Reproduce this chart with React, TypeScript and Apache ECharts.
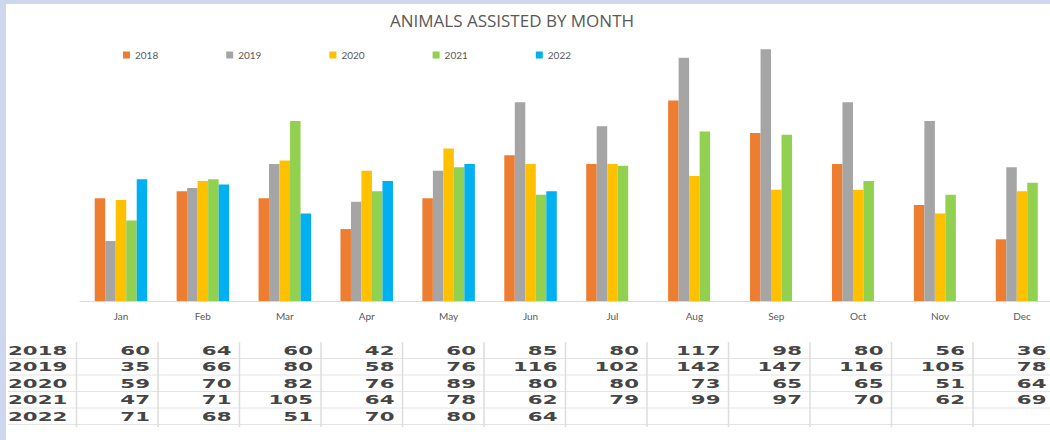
import React, { useEffect, useRef } from "react";
import * as echarts from "echarts";

const months = ["Jan", "Feb", "Mar", "Apr", "May", "Jun", "Jul", "Aug", "Sep", "Oct", "Nov", "Dec"];
const years = ["2018", "2019", "2020", "2021", "2022"];
const v2018 = [60, 64, 60, 42, 60, 85, 80, 117, 98, 80, 56, 36];
const v2019 = [35, 66, 80, 58, 76, 116, 102, 142, 147, 116, 105, 78];
const v2020 = [59, 70, 82, 76, 89, 80, 80, 73, 65, 65, 51, 64];
const v2021 = [47, 71, 105, 64, 78, 62, 79, 99, 97, 70, 62, 69];
const v2022: (number | null)[] = [71, 68, 51, 70, 80, 64, null, null, null, null, null, null];
const colors = ["#ED7D31", "#A5A5A5", "#FFC000", "#92D050", "#00B0F0"];
const title = "ANIMALS ASSISTED BY MONTH";

export default function App() {
  const ref = useRef<HTMLDivElement>(null);
  useEffect(() => {
    if (!ref.current) return;
    const chart = echarts.init(ref.current, null, { renderer: "svg" });
    const allSeries = [v2018, v2019, v2020, v2021, v2022];

    const graphics: any[] = [];
    graphics.push({
      type: "rect",
      z: -100,
      silent: true,
      shape: { x: 6, y: 4, width: 1100, height: 436 },
      style: { fill: "#ffffff" },
    });
    const rowY = [350.5, 367, 383.5, 400, 416.5];
    const sep0 = 76.5;
    const colW = 81.5;
    const lineTop = 342;
    const lineBottom = 427;
    [358.5, 375, 391.5, 408, 424.5].forEach((y) => {
      graphics.push({
        type: "line",
        silent: true,
        shape: { x1: 8, y1: y, x2: 1050, y2: y },
        style: { stroke: "#e4e4e4", lineWidth: 1 },
      });
    });
    for (let k = 0; k <= 12; k++) {
      graphics.push({
        type: "line",
        silent: true,
        shape: { x1: sep0 + colW * k, y1: lineTop, x2: sep0 + colW * k, y2: lineBottom },
        style: { stroke: "#dcdcdc", lineWidth: 1.5 },
      });
    }
    const textStyleBase = {
      fontFamily: "DejaVu Sans",
      fontWeight: "bold",
      fontSize: 13,
      fill: "#454545",
      verticalAlign: "middle",
    };
    years.forEach((yr, r) => {
      graphics.push({
        type: "text",
        silent: true,
        x: 8,
        y: rowY[r],
        scaleX: 1.64,
        style: { ...textStyleBase, text: yr, align: "left" },
      });
      allSeries[r].forEach((val, c) => {
        if (val == null) return;
        graphics.push({
          type: "text",
          silent: true,
          x: sep0 + colW * (c + 1) - 8,
          y: rowY[r],
          scaleX: 1.64,
          style: { ...textStyleBase, text: String(val), align: "right" },
        });
      });
    });

    chart.setOption({
      animation: false,
      backgroundColor: "#cdd7ee",
      color: colors,
      title: {
        text: title,
        left: 507,
        textAlign: "center",
        top: 7,
        textStyle: { fontFamily: "Open Sans", fontSize: 17, fontWeight: "normal", color: "#595959" },
      },
      legend: {
        data: years,
        left: 118,
        top: 45,
        itemWidth: 7,
        itemHeight: 7,
        itemGap: 68,
        icon: "rect",
        textStyle: { fontFamily: "Lato", fontSize: 10, color: "#595959" },
      },
      grid: { left: 80, width: 983, top: 44, bottom: 139 },
      xAxis: {
        type: "category",
        data: months,
        axisLine: { lineStyle: { color: "#d9d9d9", width: 1 } },
        axisTick: { show: false },
        axisLabel: { fontFamily: "Lato", fontSize: 10, color: "#595959", margin: 10 },
      },
      yAxis: { type: "value", min: 0, max: 150, show: false, splitLine: { show: false } },
      series: years.map((yr, i) => ({
        name: yr,
        type: "bar",
        data: allSeries[i],
        barWidth: 10.5,
        barGap: "0%",
        itemStyle: { color: colors[i] },
      })),
      graphic: graphics,
    });
    return () => chart.dispose();
  }, []);
  return (
    <div style={{ position: "absolute", left: 0, top: 0, width: 1050, height: 440, overflow: "hidden" }}>
      <div ref={ref} style={{ position: "absolute", left: 0, top: 0, width: 1100, height: 440 }} />
    </div>
  );
}
